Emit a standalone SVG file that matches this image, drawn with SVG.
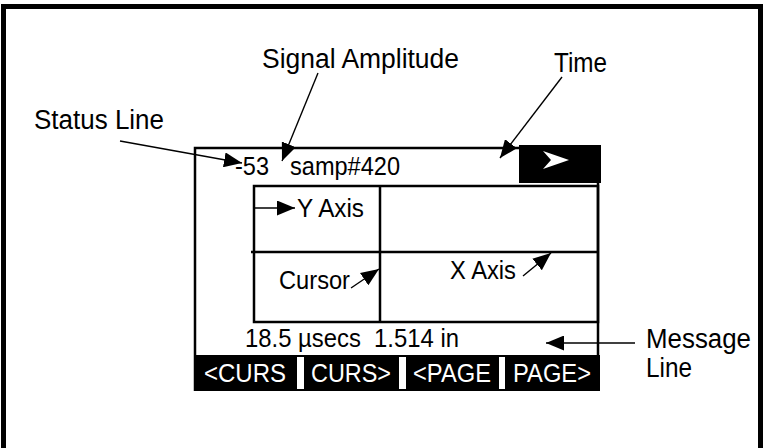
<svg xmlns="http://www.w3.org/2000/svg" width="767" height="448" viewBox="0 0 767 448">
<style>
.lbl{font-family:"Liberation Sans",Arial,sans-serif;font-size:27px;fill:#000}
.scr{font-family:"Liberation Sans",Arial,sans-serif;font-size:25px;fill:#000;white-space:pre}
.key{font-family:"Liberation Sans",Arial,sans-serif;font-size:25px;fill:#fff}
.ln{stroke:#000;stroke-width:2.5;fill:none}
.conn{stroke:#000;stroke-width:1.4;fill:none;marker-end:url(#ah)}
</style>
<defs>
<marker id="ah" markerUnits="userSpaceOnUse" markerWidth="18" markerHeight="15" refX="18" refY="7.5" orient="auto">
<path d="M0,0 L18,7.5 L0,15 z" fill="#000"/>
</marker>
</defs>
<rect width="767" height="448" fill="#fff"/>
<rect x="3.5" y="6.5" width="757" height="470" fill="none" stroke="#000" stroke-width="5"/>

<g id="screen">
<path class="ln" d="M195,391 V148 H520 M598,183 V355"/>
<rect x="519" y="145" width="82" height="38" fill="#000"/>
<path d="M543,151 L569,160 L543,169 L551,160 z" fill="#fff"/>
<text class="scr" x="235" y="175" textLength="34" lengthAdjust="spacingAndGlyphs">-53</text>
<text class="scr" x="290" y="175" textLength="110" lengthAdjust="spacingAndGlyphs">samp#420</text>
</g>

<g id="graph">
<rect class="ln" x="254" y="186" width="344" height="136"/>
<path class="ln" d="M380,186 V322 M251,252 H598"/>
<text class="scr" x="297" y="217" textLength="67" lengthAdjust="spacingAndGlyphs">Y Axis</text>
<text class="scr" x="279" y="289" textLength="71" lengthAdjust="spacingAndGlyphs">Cursor</text>
<text class="scr" x="450" y="279" textLength="66" lengthAdjust="spacingAndGlyphs">X Axis</text>
</g>

<g id="message">
<text class="scr" x="245" y="347" textLength="214" lengthAdjust="spacingAndGlyphs" xml:space="preserve">18.5 µsecs  1.514 in</text>
</g>

<g id="softkeys">
<rect x="195" y="355" width="405" height="36" fill="#000"/>
<rect x="297" y="357" width="7" height="32" fill="#fff"/>
<rect x="399" y="357" width="7" height="32" fill="#fff"/>
<rect x="499" y="357" width="6" height="32" fill="#fff"/>
<text class="key" x="204" y="382" textLength="82" lengthAdjust="spacingAndGlyphs">&lt;CURS</text>
<text class="key" x="311" y="382" textLength="80" lengthAdjust="spacingAndGlyphs">CURS&gt;</text>
<text class="key" x="413" y="382" textLength="78" lengthAdjust="spacingAndGlyphs">&lt;PAGE</text>
<text class="key" x="513" y="382" textLength="78" lengthAdjust="spacingAndGlyphs">PAGE&gt;</text>
</g>

<g id="labels">
<text class="lbl" x="34" y="129" textLength="130" lengthAdjust="spacingAndGlyphs">Status Line</text>
<text class="lbl" x="262" y="68" textLength="197" lengthAdjust="spacingAndGlyphs">Signal Amplitude</text>
<text class="lbl" x="554" y="72" textLength="53" lengthAdjust="spacingAndGlyphs">Time</text>
<text class="lbl" x="646" y="348" textLength="105" lengthAdjust="spacingAndGlyphs">Message</text>
<text class="lbl" x="646" y="377" textLength="46" lengthAdjust="spacingAndGlyphs">Line</text>
</g>

<g id="connectors">
<line class="conn" x1="120" y1="141" x2="242" y2="163"/>
<line class="conn" x1="318" y1="73" x2="282" y2="161"/>
<line class="conn" x1="562" y1="77" x2="500" y2="158"/>
<line class="conn" x1="255" y1="208" x2="295" y2="208"/>
<line class="conn" x1="351" y1="288" x2="379" y2="269"/>
<line class="conn" x1="523" y1="276" x2="551" y2="253"/>
<line class="conn" x1="635" y1="343" x2="546" y2="343"/>
</g>
</svg>
